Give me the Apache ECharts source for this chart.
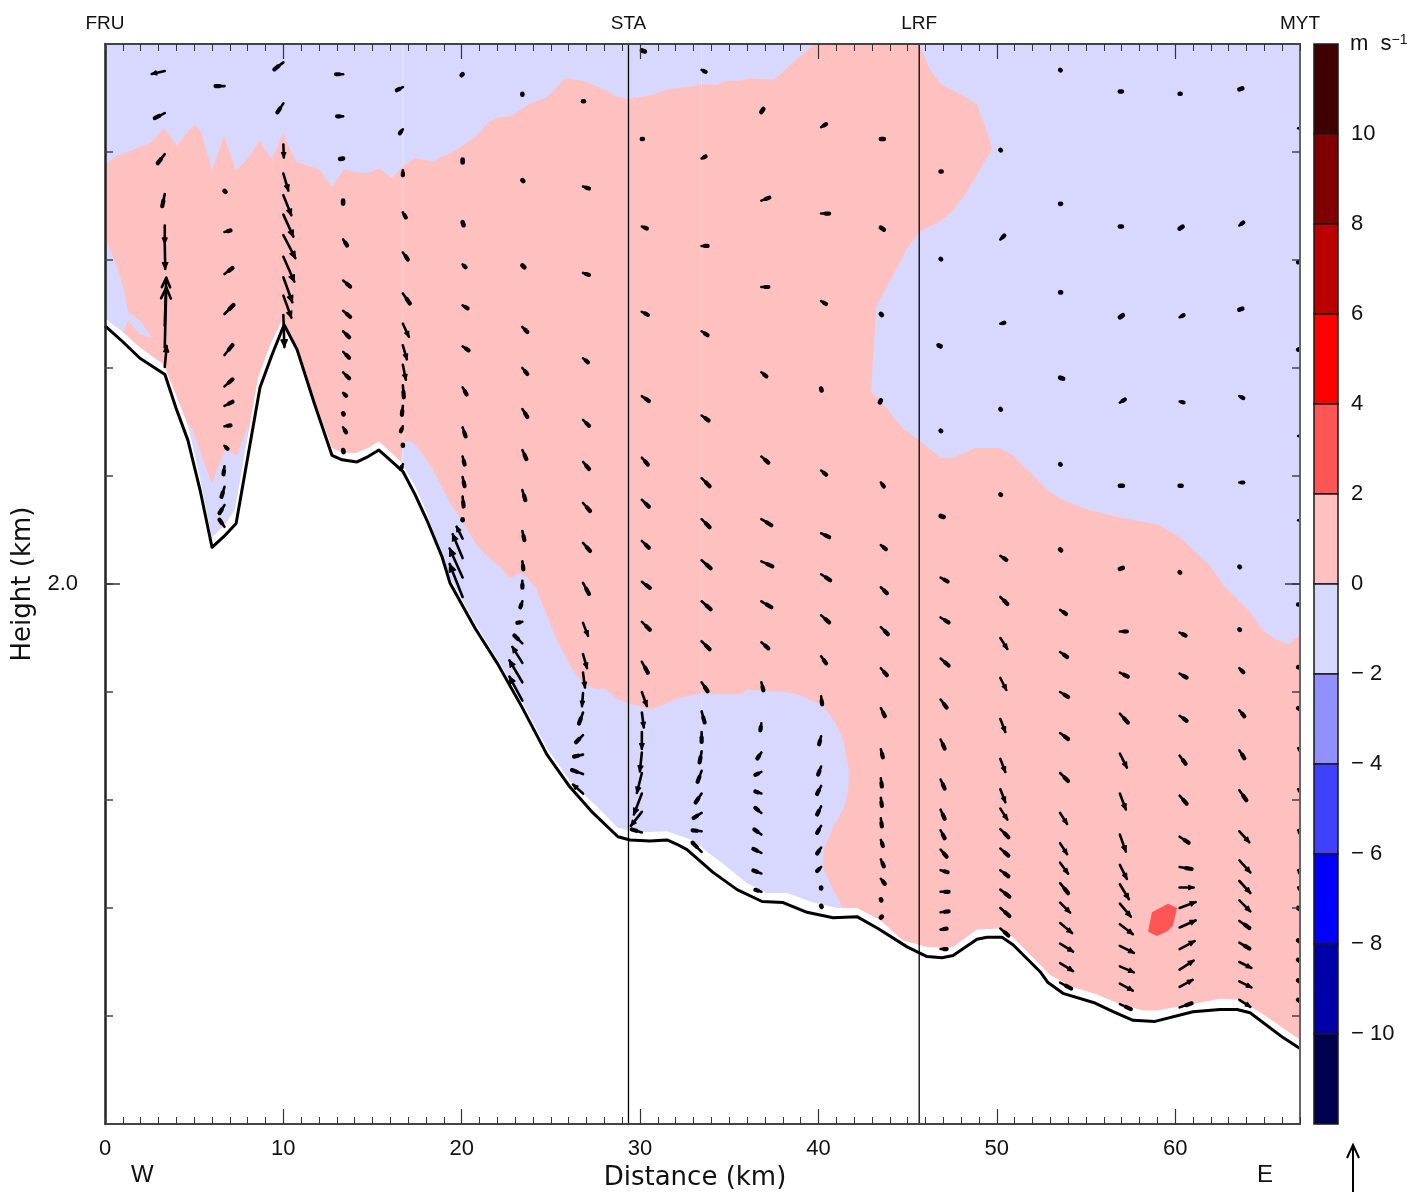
<!DOCTYPE html>
<html>
<head>
<meta charset="utf-8">
<title>Vertical velocity cross section</title>
<script src="https://cdn.jsdelivr.net/npm/echarts@6/dist/echarts.min.js"></script>
<style>html,body{margin:0;padding:0;background:#fff}#c{width:1410px;height:1192px}</style>
</head>
<body>
<div id="c"></div>
<script>
// ---- Axis ticks and labels
const xMajor = [0, 10, 20, 30, 40, 50, 60];
const yLabelled = [2000];
const barTicks = [-10, -8, -6, -4, -2, 0, 2, 4, 6, 8, 10];
// ---- Stations (km)
const stationNames = ['FRU', 'STA', 'LRF', 'MYT'];
const stationKm = [0, 29.35, 45.65, 67];
const stationLines = [29.35, 45.65];
const seamKm = [16.7, 33.45];
// ---- Colour key
const barLow = [10, 8, 6, 4, 2, 0, -2, -4, -6, -8, -10, -12];
const barColors = ['#400000', '#800000', '#bb0000', '#ff0000', '#ff5555', '#ffc0c0', '#d8d8ff', '#9090ff', '#4040ff', '#0000ff', '#0000a8', '#000050'];
// ---- Terrain (km, m)
const terrain = [[0,2239],[.95,2225],[1.96,2209],[3.36,2194],[3.98,2163],[4.65,2133],[5.33,2087],[6,2034],[6.67,2044],[7.35,2056],[8.02,2119],[8.69,2182],[9.36,2212],[10.04,2240],[10.77,2217],[11.72,2168],[12.73,2119],[13.29,2115],[14.13,2113],[14.75,2118],[15.36,2124],[16.04,2114],[16.71,2104],[17.38,2083],[18.05,2059],[18.9,2025],[19.34,2001],[20.75,1959],[21.98,1927],[23.38,1886],[24.78,1842],[26.07,1812],[27.36,1788],[28.76,1766],[29.44,1763],[30.56,1762],[31.51,1763],[32.07,1759],[32.63,1754],[34.09,1733],[35.44,1717],[36.84,1706],[38.02,1705],[39.36,1696],[40.82,1691],[42.16,1692],[43.34,1681],[44.97,1664],[46.09,1655],[46.93,1654],[47.55,1656],[48.89,1671],[49.45,1673],[50.29,1673],[50.91,1666],[52.43,1641],[52.87,1631],[53.71,1621],[55.51,1612],[56.52,1604],[57.64,1596],[58.87,1595],[61,1604],[62.52,1606],[63.47,1606],[64.2,1603],[66.05,1580],[67,1570]];
// Upper edge of the unfilled ground strip
const groundEdge = [[0,2246],[1.01,2233],[1.96,2219],[3.31,2203],[4.65,2147],[5.33,2098],[6,2043],[6.73,2055],[7.29,2069],[7.96,2133],[8.58,2191],[9.25,2221],[9.92,2244],[10.54,2223],[11.66,2175],[12.73,2126],[13.29,2122],[14.02,2121],[14.75,2126],[15.36,2132],[16.04,2122],[16.6,2113],[17.38,2091],[18.05,2066],[18.67,2034],[19.34,2006],[20.75,1964],[21.98,1931],[23.38,1891],[24.78,1848],[26.24,1814],[27.59,1794],[28.76,1774],[30,1770],[31.51,1771],[32.91,1763],[34.88,1738],[36,1723],[37.12,1714],[38.24,1714],[39.7,1705],[41.04,1700],[42.16,1700],[43.45,1689],[44.74,1670],[46.09,1664],[47.21,1663],[47.55,1664],[48.89,1680],[50.18,1681],[50.91,1673],[52.99,1638],[54.22,1627],[55.62,1620],[56.74,1612],[58.2,1605],[58.98,1605],[60.67,1610],[62.52,1616],[63.64,1615],[65.15,1599],[67,1578],[67,1500],[0,1500]];
// ---- Contour regions (km, m)
const pinkZone = [[0,2388],[.62,2396],[1.29,2400],[2.58,2409],[3.31,2422],[4.04,2406],[4.65,2419],[5.05,2425],[5.38,2419],[6,2383],[6.67,2415],[7.35,2383],[7.96,2393],[8.69,2411],[8.97,2402],[9.36,2394],[9.98,2417],[10.71,2391],[12,2384],[12.73,2368],[13.4,2384],[14.13,2381],[14.75,2380],[15.36,2385],[16.09,2376],[16.71,2387],[17.38,2394],[18.5,2391],[18.67,2394],[19.51,2400],[20.75,2414],[21.53,2428],[22.04,2432],[22.76,2433],[23.83,2445],[24.78,2451],[25.79,2468],[26.8,2466],[28.09,2457],[28.71,2451],[29.32,2449],[30.73,2453],[31.51,2458],[32.69,2460],[33.47,2463],[34.31,2462],[34.82,2466],[35.49,2466],[36.16,2468],[37.51,2467],[38.86,2487],[39.81,2500],[45.64,2500],[46.26,2476],[46.87,2463],[48.22,2451],[48.89,2444],[49.51,2416],[49.73,2403],[48.28,2362],[47.49,2345],[46.87,2336],[45.64,2326],[45.02,2312],[43.23,2256],[42.95,2178],[43.57,2168],[44.74,2144],[45.64,2133],[46.82,2117],[47.55,2117],[48.78,2126],[50.18,2126],[50.91,2119],[52.87,2087],[53.55,2079],[55.06,2069],[57.02,2061],[59.04,2055],[60.22,2044],[61.96,2017],[62.69,1999],[64.2,1974],[64.93,1957],[65.6,1949],[66.33,1944],[67,1953],[67,1500],[0,1500],[0,2221],[1.01,2233],[1.29,2244],[1.96,2231],[2.64,2228],[1.96,2244],[1.29,2252],[1.12,2269],[.67,2294],[0,2321]];
const blueValley = [[4.6,2148],[4.88,2144],[5.44,2118],[6,2093],[6.73,2125],[7.4,2119],[8.02,2148],[7.85,2115],[7.46,2071],[6.62,2055],[6,2041],[5.33,2036],[4.2,2133]];
const blueSlope = [[16.6,2115],[16.71,2131],[17.1,2133],[17.66,2124],[18.39,2106],[19.34,2075],[20.07,2057],[20.75,2038],[21.47,2025],[22.15,2016],[22.71,2005],[23.21,2010],[23.55,2008],[24.17,1996],[25.34,1948],[26.24,1920],[26.91,1906],[27.59,1903],[28.03,1903],[28.76,1893],[29.44,1889],[30.67,1884],[32.07,1894],[33.47,1899],[34.31,1898],[35.6,1898],[36.05,1902],[38.13,1900],[38.97,1897],[40.2,1888],[40.93,1872],[41.38,1856],[41.71,1828],[41.66,1807],[41.38,1791],[40.82,1775],[40.31,1754],[40.26,1744],[40.31,1735],[40.82,1717],[41.38,1700],[41.38,1680],[33.36,1726],[28.88,1754],[23.27,1874],[19.34,1985],[16.54,2096]];
const redPatch = [[58.7,1696],[59.6,1704],[60.11,1700],[59.88,1684],[59.6,1679],[58.98,1674],[58.48,1678]];
// ---- Wind vectors: column positions (km) and rows of [height m, along-section, vertical]
const columnKm = [3.35,6.7,10,13.35,16.7,20.05,23.4,26.8,30.1,33.45,36.8,40.15,43.5,46.85,50.2,53.55,56.9,60.25,63.6,66.9];
const col01 = [[2475,-1.3,-.3],[2436,-1,-.5],[2398,-.7,-.9],[2361,-.25,-1.2],[2332,0,-1.8],[2314,.05,-2.4],[2239,.15,4.8],[2219,.15,6],[2201,.2,2.1]];
const col02 = [[2461,-.9,0],[2364,.1,-.1],[2326,.6,.15],[2287,.8,.6],[2250,.9,.9],[2212,.8,1],[2183,.8,.7],[2165,.8,.4],[2146,.6,.1],[2128,.3,-.3],[2109,-.1,-.8],[2090,-.3,-1],[2073,-.5,-.8],[2053,-.5,.7]];
const col03 = [[2483,-.9,-.7],[2445,-.6,-.9],[2407,.05,-1.3],[2380,.5,-1.7],[2360,.8,-2],[2342,1,-2.2],[2323,1.2,-2.3],[2303,1.1,-2.5],[2284,.9,-2.5],[2267,.8,-2.2],[2249,.1,-3.2]];
const col04 = [[2472,-.7,0],[2433,-.6,0],[2394,-.3,-.05],[2355,0,-.3],[2319,.4,-.6],[2281,.7,-.6],[2253,.7,-.6],[2234,.6,-.6],[2215,.6,-.6],[2196,.6,-.6],[2177,.3,-.3],[2158,.05,-.1],[2145,.3,-.5],[2124,.05,-.2]];
const col05 = [[2460,-.6,-.3],[2421,-.3,-.4],[2383,0,-.5],[2344,.3,-.5],[2307,.5,-.7],[2269,.7,-1],[2241,.6,-1.3],[2221,.4,-1.4],[2203,.3,-1.5],[2184,.1,-1.2],[2165,-.1,-.9],[2146,-.2,-.5],[2129,0,-.1],[2111,-.2,-.5]];
const col06 = [[2472,-.1,-.1],[2393,0,-.3],[2335,.1,-.3],[2296,.3,-.3],[2258,.5,-.3],[2220,.6,-.4],[2182,.4,-.7],[2145,.3,-.9],[2118,.2,-.8],[2099,.2,-.9],[2081,.1,-1],[2060,0,-.1],[2042,-.6,1.2],[2024,-1,2.4],[2006,-1.3,2.9],[1988,-1.3,3.3]];
const col07 = [[2454,0,-.1],[2374,.1,-.1],[2295,.2,-.2],[2238,.5,-.5],[2200,.5,-.6],[2162,.5,-.8],[2124,.4,-.9],[2087,.3,-1],[2049,.2,-.9],[2021,.1,-.8],[2003,0,-.7],[1984,-.2,-.6],[1965,-.5,-.1],[1945,-.8,.8],[1927,-1,1.6],[1909,-1.3,2.2],[1892,-1.3,2.4]];
const col08 = [[2447,.1,0],[2368,.6,-.2],[2288,.6,-.2],[2209,.5,-.4],[2152,.6,-.6],[2113,.6,-.7],[2075,.7,-.8],[2038,.7,-.8],[2001,.6,-1.1],[1964,.5,-1.3],[1935,.4,-1.4],[1918,.2,-1.5],[1899,-.1,-1.3],[1881,-.4,-1.1],[1860,-.7,-.7],[1842,-.9,-.2],[1824,-1.1,.4],[1806,-1,.9]];
const col09 = [[2494,.3,-.1],[2412,.1,0],[2331,.5,-.2],[2252,.6,-.3],[2174,.7,-.5],[2117,.6,-.7],[2078,.7,-.7],[2040,.7,-.7],[2002,.8,-.6],[1965,.8,-.8],[1928,.6,-1.1],[1900,.5,-1.4],[1881,.2,-1.5],[1863,0,-1.7],[1844,-.2,-1.9],[1825,-.5,-2],[1806,-.8,-2.1],[1789,-1.1,-1.4],[1770,-1,.3]];
const col10 = [[2476,.4,-.2],[2394,.4,.2],[2313,.6,0],[2234,.6,-.4],[2156,.7,-.5],[2098,.8,-.8],[2060,.8,-.8],[2022,.9,-.8],[1984,.9,-.8],[1947,.8,-.8],[1909,.6,-.9],[1882,.3,-1.1],[1863,0,-1],[1845,-.2,-1.1],[1827,-.4,-1.1],[1806,-.6,-.9],[1788,-.8,-.5],[1771,-.9,.1],[1752,-.9,.9]];
const col11 = [[2437,.2,.3],[2355,.8,.3],[2275,.7,0],[2196,.5,-.4],[2118,.7,-.6],[2060,1,-.6],[2021,1.1,-.5],[1984,1,-.6],[1946,.7,-.6],[1909,.2,-.8],[1871,-.1,-.7],[1844,-.4,-.6],[1826,-.6,-.3],[1806,-.6,.2],[1788,-.6,.5],[1768,-.7,.5],[1751,-.8,.4],[1732,-.8,.3],[1715,-.6,.2]];
const col12 = [[2423,.5,.3],[2343,.8,0],[2262,.5,-.3],[2181,.05,-.2],[2105,.5,-.4],[2047,.8,-.4],[2009,.9,-.6],[1971,.8,-.7],[1933,.5,-.7],[1896,.1,-.8],[1859,-.2,-.8],[1831,-.3,-.8],[1813,-.4,-.8],[1794,-.4,-.8],[1776,-.4,-.7],[1756,-.4,-.6],[1738,-.4,-.4],[1719,0,-.1],[1702,.05,-.1]];
const col13 = [[2412,.3,0],[2330,.3,-.2],[2250,.1,-.1],[2170,-.1,-.2],[2094,.3,-.4],[2036,.5,-.4],[1997,.6,-.6],[1960,.7,-.7],[1922,.6,-.7],[1885,.4,-.8],[1847,.2,-.8],[1820,.1,-.8],[1802,.1,-.8],[1783,.1,-.8],[1763,.2,-.6],[1745,.3,-.7],[1727,.4,-.5],[1708,.05,-.1],[1691,.1,.1]];
const col14 = [[2382,.1,0],[2301,.05,-.05],[2220,-.2,.1],[2142,.05,-.05],[2063,.3,-.1],[2006,.7,-.4],[1969,.8,-.5],[1931,.8,-.7],[1893,.6,-.8],[1856,.4,-.9],[1819,.4,-.9],[1791,.4,-.9],[1772,.4,-.8],[1754,.6,-.7],[1735,.7,-.2],[1715,.8,0],[1696,.8,.1],[1680,.6,.1],[1662,.6,0]];
const col15 = [[2402,.05,-.05],[2319,.4,.4],[2241,.4,.1],[2162,.05,-.05],[2083,.05,-.05],[2026,.6,-.4],[1988,.7,-.7],[1950,.7,-1.1],[1913,.6,-1.2],[1875,.5,-1.3],[1838,.5,-1.3],[1810,.5,-1.3],[1792,.7,-1.1],[1773,.8,-.8],[1755,.8,-.7],[1735,.8,-.6],[1717,.9,-.7],[1700,.9,-.8],[1681,.8,-.7]];
const col16 = [[2476,.05,-.05],[2352,.1,0],[2270,.1,0],[2191,.3,-.1],[2111,.05,-.05],[2032,.1,-.1],[1976,.6,-.4],[1937,.7,-.5],[1900,.8,-.5],[1862,.8,-.6],[1825,.8,-.8],[1788,.7,-1.1],[1760,.7,-1.1],[1742,.8,-1.1],[1723,.8,-1],[1705,1,-1],[1686,1.2,-1],[1667,1.3,-.8],[1649,1.3,-.8],[1631,1.1,-.6]];
const col17 = [[2456,.2,0],[2331,.2,0],[2247,.3,.2],[2168,.5,.3],[2091,.3,0],[2014,.3,.1],[1956,.7,0],[1918,.8,-.4],[1880,.8,-.9],[1843,.7,-1.4],[1806,.6,-1.6],[1768,.6,-1.7],[1740,.7,-1.4],[1722,.9,-1.5],[1704,1.1,-1.3],[1685,1.3,-1],[1665,1.4,-.7],[1646,1.4,-.6],[1630,1.3,-.7],[1611,1.1,-.5]];
const col18 = [[2454,.1,0],[2329,.3,.2],[2247,.4,.2],[2169,.4,-.1],[2091,.2,0],[2011,.05,-.05],[1955,.6,-.3],[1917,.7,-.4],[1878,.7,-.5],[1841,.6,-.8],[1804,.7,-.8],[1766,.9,-.6],[1738,1.2,-.2],[1719,1.4,0],[1700,1.6,.6],[1682,1.6,.7],[1662,1.5,.8],[1643,1.4,.9],[1627,1.3,.7],[1608,1.2,.4]];
const col19 = [[2458,.3,.1],[2332,.4,.3],[2254,.3,.1],[2174,.4,-.2],[2094,.4,0],[2016,.05,-.05],[1958,.05,-.05],[1922,.4,-.4],[1883,.5,-.6],[1846,.5,-.8],[1809,.7,-1],[1771,1,-1.1],[1744,1.1,-1.2],[1725,1.1,-1.2],[1707,1.1,-1.1],[1688,1,-.7],[1668,1,-.6],[1650,1.2,-.6],[1632,1.2,-.6],[1615,1.1,-.7]];
const col20 = [[2422,.4,0],[2298,.3,.1],[2217,.3,.1],[2137,.4,0],[2059,.4,0],[1981,.2,0],[1923,.3,-.1],[1885,.3,-.2],[1848,.3,-.3],[1810,.3,-.3],[1772,.3,-.4],[1735,.3,-.4],[1719,.3,-.3],[1700,.3,-.2],[1670,.3,-.2],[1652,.3,-.2],[1633,.3,-.2],[1615,.3,-.2]];
const columns = [col01,col02,col03,col04,col05,col06,col07,col08,col09,col10,col11,col12,col13,col14,col15,col16,col17,col18,col19,col20];

const vectorScale = 10;
const ink = '#000';
const numFont = 'Liberation Sans';
const nameFont = 'DejaVu Sans';
const vectors = [];
columns.forEach((rows, i) => rows.forEach(r => vectors.push([columnKm[i], r[0], r[1], r[2]])));

function regionSeries(points, fill, z) {
  return {
    type: 'custom', silent: true, z, data: points, encode: {x: 0, y: 1},
    renderItem(params, api) {
      if (params.dataIndex !== 0) return null;
      return {type: 'polygon', shape: {points: points.map(p => api.coord(p))}, style: {fill}};
    }
  };
}

function arrowItem(params, api) {
  const t = api.coord([api.value(0), api.value(1)]);
  const dx = api.value(2) * vectorScale, dy = -api.value(3) * vectorScale;
  const L = Math.hypot(dx, dy);
  const tip = [t[0] + dx, t[1] + dy];
  if (L < 4) {
    return {type: 'polyline', shape: {points: [t, tip]}, style: {stroke: ink, lineWidth: 4.6, lineCap: 'round', fill: null}};
  }
  if (L < 13) {
    const mid = [t[0] + dx * 0.55, t[1] + dy * 0.55];
    return {type: 'group', children: [
      {type: 'polyline', shape: {points: [t, tip]}, style: {stroke: ink, lineWidth: 2.6, lineCap: 'round', fill: null}},
      {type: 'polyline', shape: {points: [mid, tip]}, style: {stroke: ink, lineWidth: 4.2, lineCap: 'round', fill: null}}
    ]};
  }
  const ang = Math.atan2(dy, dx);
  const b = 3.5 + 0.14 * L, spread = L < 45 ? 0.42 : 0.42;
  const p1 = [tip[0] - b * Math.cos(ang - spread), tip[1] - b * Math.sin(ang - spread)];
  const p2 = [tip[0] - b * Math.cos(ang + spread), tip[1] - b * Math.sin(ang + spread)];
  const stroke = {stroke: ink, lineWidth: 2.6, lineCap: 'round', lineJoin: 'round', fill: null};
  const children = [{type: 'polyline', shape: {points: [t, tip]}, style: stroke}];
  if (L < 45) {
    children.push({type: 'polygon', shape: {points: [p1, tip, p2]}, style: {fill: ink, stroke: ink, lineWidth: 1.2, lineJoin: 'round'}});
  } else {
    children.push({type: 'polyline', shape: {points: [p1, tip, p2]}, style: stroke});
  }
  return {type: 'group', children};
}

function baseX(position, labels) {
  return {
    type: 'value', position, min: 0, max: 67, interval: 1, z: 20, silent: true,
    axisLine: {show: true, onZero: false, lineStyle: {color: '#444', width: 2}},
    axisTick: {show: true, inside: true, length: 7, lineStyle: {color: '#333', width: 1}},
    splitLine: {show: false}, minorTick: {show: false},
    axisLabel: labels ? {show: true, customValues: xMajor, margin: 14, color: '#111', fontFamily: numFont, fontSize: 22, hideOverlap: false} : {show: false}
  };
}
function majorX(position) {
  return {
    type: 'value', position, min: 0, max: 67, interval: 10, z: 20, silent: true,
    axisLine: {show: false, onZero: false},
    axisTick: {show: true, inside: true, length: 15, customValues: xMajor.slice(1), lineStyle: {color: '#333', width: 1.2}},
    splitLine: {show: false}, axisLabel: {show: false}
  };
}
function baseY(position, color, width, labelled) {
  const a = {
    type: 'value', position, min: 1500, max: 2500, interval: 100, z: 20, silent: true,
    axisLine: {show: true, onZero: false, lineStyle: {color, width}},
    axisTick: {show: true, inside: true, length: 8, lineStyle: {color: '#444', width: 1.5}},
    splitLine: {show: false},
    axisLabel: {show: false}
  };
  if (labelled) {
    a.axisLabel = {show: true, customValues: yLabelled, margin: 27, color: '#111', fontFamily: numFont, fontSize: 22, formatter: v => (v / 1000).toFixed(1)};
    a.name = 'Height (km)';
    a.nameLocation = 'middle';
    a.nameGap = 65;
    a.nameTextStyle = {color: '#111', fontFamily: nameFont, fontSize: 26};
  }
  return a;
}
function majorY(position) {
  return {
    type: 'value', position, min: 1500, max: 2500, interval: 500, z: 20, silent: true,
    axisLine: {show: false, onZero: false},
    axisTick: {show: true, inside: true, length: 15, customValues: yLabelled, lineStyle: {color: '#333', width: 1.5}},
    splitLine: {show: false}, axisLabel: {show: false}
  };
}

const bottomX = baseX('bottom', true);
bottomX.name = 'Distance (km)';
bottomX.nameLocation = 'middle';
bottomX.nameGap = 41;
bottomX.nameTextStyle = {color: '#111', fontFamily: nameFont, fontSize: 26, padding: [0, 15, 0, 0]};

const chart = echarts.init(document.getElementById('c'), null, {renderer: 'canvas', width: 1410, height: 1192});
chart.setOption({
  animation: false,
  backgroundColor: '#fff',
  grid: [
    {left: 105, top: 44, width: 1195, height: 1080, show: true, backgroundColor: '#d8d8ff', borderWidth: 0, outerBoundsMode: 'none', containLabel: false},
    {left: 1314, top: 44, width: 24, height: 1080, show: false, outerBoundsMode: 'none', containLabel: false}
  ],
  xAxis: [
    bottomX, baseX('top', false), majorX('bottom'), majorX('top'),
    {gridIndex: 1, type: 'value', min: 0, max: 1, show: false}
  ],
  yAxis: [
    baseY('left', '#222', 2.5, true), baseY('right', '#666', 2, false), majorY('left'), majorY('right'),
    {gridIndex: 1, type: 'value', position: 'right', min: -12, max: 12, interval: 2, z: 20,
     axisLine: {show: false}, axisTick: {show: false}, splitLine: {show: false},
     axisLabel: {show: true, customValues: barTicks, margin: 13, color: '#111', fontFamily: numFont, fontSize: 22, formatter: v => v < 0 ? '\u2212 ' + (-v) : String(v)}}
  ],
  series: [
    regionSeries(pinkZone, '#ffc0c0', 3),
    regionSeries(blueValley, '#d8d8ff', 4),
    regionSeries(blueSlope, '#d8d8ff', 4),
    regionSeries(redPatch, '#ff5555', 4),
    {type: 'custom', silent: true, z: 4, data: seamKm.map(x => [x]), encode: {x: 0},
     renderItem(params, api) {
       const a = api.coord([api.value(0), 2500]), b = api.coord([api.value(0), 1500]);
       return {type: 'line', shape: {x1: a[0], y1: a[1], x2: b[0], y2: b[1]}, style: {stroke: 'rgba(255,255,255,0.3)', lineWidth: 1}};
     }},
    regionSeries(groundEdge, '#ffffff', 5),
    {type: 'line', data: terrain, z: 8, showSymbol: false, symbol: 'none', silent: true,
     lineStyle: {color: '#000', width: 3, join: 'round'}},
    {type: 'custom', silent: true, z: 9, data: stationLines.map(x => [x]), encode: {x: 0},
     renderItem(params, api) {
       const a = api.coord([api.value(0), 2500]), b = api.coord([api.value(0), 1500]);
       return {type: 'line', shape: {x1: a[0], y1: a[1], x2: b[0], y2: b[1]}, style: {stroke: '#000', lineWidth: 1.3}};
     }},
    {type: 'custom', silent: true, z: 10, clip: true, data: vectors, encode: {x: 0, y: 1}, renderItem: arrowItem},
    {type: 'custom', silent: true, z: 10, data: stationKm.map(x => [x]), encode: {x: 0},
     renderItem(params, api) {
       const a = api.coord([api.value(0), 2500]);
       return {type: 'text', x: a[0], y: a[1] - 20, style: {text: stationNames[params.dataIndex], fill: '#111', font: '19px ' + numFont, textAlign: 'center', textVerticalAlign: 'middle'}};
     }},
    {type: 'custom', silent: true, z: 3, xAxisIndex: 4, yAxisIndex: 4, data: barLow.map((v, i) => [v, i]), encode: {y: 0},
     renderItem(params, api) {
       const low = api.value(0);
       const a = api.coord([0, low + 2]), b = api.coord([1, low]);
       return {type: 'rect', shape: {x: a[0], y: a[1], width: b[0] - a[0], height: b[1] - a[1]},
               style: {fill: barColors[params.dataIndex], stroke: '#1a1a1a', lineWidth: 1.5}};
     }}
  ],
  graphic: [
    {type: 'text', left: 131, top: 1163, silent: true, style: {text: 'W', fill: '#111', font: '24px ' + numFont}},
    {type: 'text', left: 1257, top: 1163, silent: true, style: {text: 'E', fill: '#111', font: '24px ' + numFont}},
    {type: 'text', left: 1350, top: 33, silent: true, style: {
      text: '{a|m  s}{b|\u22121}', rich: {a: {font: '22px ' + numFont, fill: '#111'}, b: {font: '14px ' + numFont, fill: '#111', verticalAlign: 'top'}}}},
    {type: 'polyline', silent: true, shape: {points: [[1353, 1192], [1353, 1145]]}, style: {stroke: '#000', lineWidth: 2, fill: null}},
    {type: 'polyline', silent: true, shape: {points: [[1347, 1158], [1353, 1145], [1359, 1158]]}, style: {stroke: '#000', lineWidth: 2, fill: null}}
  ]
});
</script>
</body>
</html>
